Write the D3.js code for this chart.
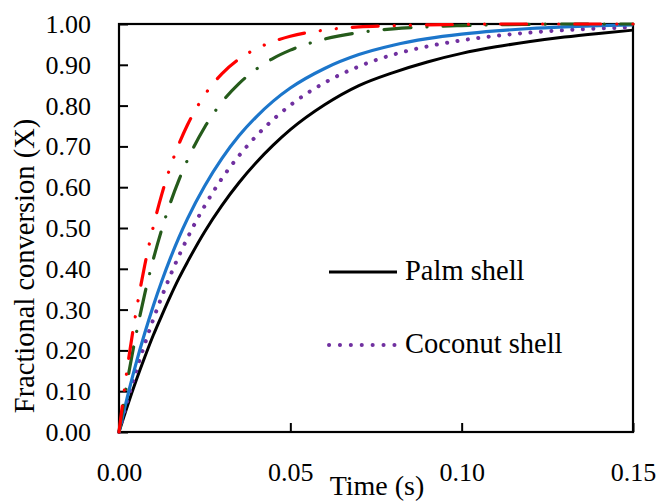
<!DOCTYPE html>
<html><head><meta charset="utf-8">
<script src="https://cdn.jsdelivr.net/npm/d3@7/dist/d3.min.js"></script>
<style>
html,body{margin:0;padding:0;background:#fff;}
</style></head>
<body>
<svg id="chart" width="659" height="503"></svg>
<script>
// ---- data ----
const xTicks = [0, 0.05, 0.10, 0.15];
const yTicks = [0,0.1,0.2,0.3,0.4,0.5,0.6,0.7,0.8,0.9,1.0];

const timeS = [0,0.0025,0.005,0.0075,0.01,0.0125,0.015,0.0175,0.02,0.025,0.03,0.035,0.04,0.045,0.05,0.06,0.07,0.08,0.09,0.10,0.11,0.12,0.13,0.14,0.15];
const palmShell    = [0,0.065,0.126,0.183,0.237,0.286,0.333,0.377,0.417,0.491,0.555,0.611,0.660,0.703,0.741,0.802,0.849,0.881,0.907,0.928,0.944,0.957,0.968,0.977,0.985];
const coconutShell = [0,0.078,0.149,0.215,0.276,0.332,0.384,0.432,0.476,0.554,0.621,0.677,0.725,0.766,0.801,0.856,0.896,0.925,0.945,0.960,0.971,0.979,0.985,0.989,0.992];
const blueSeries   = [0,0.088,0.169,0.242,0.309,0.370,0.426,0.477,0.523,0.603,0.670,0.726,0.772,0.811,0.843,0.891,0.925,0.948,0.964,0.975,0.983,0.989,0.993,0.996,0.998];
const greenSeries  = [0,0.128,0.240,0.338,0.423,0.497,0.562,0.618,0.667,0.747,0.808,0.854,0.889,0.916,0.936,0.963,0.979,0.988,0.993,0.996,0.998,0.999,1.0,1.0,1.0];
const redSeries    = [0,0.161,0.295,0.408,0.503,0.583,0.650,0.706,0.753,0.826,0.878,0.914,0.939,0.957,0.970,0.985,0.993,0.996,0.998,0.999,1.0,1.0,1.0,1.0,1.0];

const legendLabels = ["Palm shell", "Coconut shell"];

// ---- layout ----
const FONT = "'Liberation Serif', 'DejaVu Serif', 'Noto Serif', 'FreeSerif', Tinos, 'Times New Roman', Times, serif";
const svg = d3.select("#chart");
const L = 119, R = 633, T = 24, B = 432;
const x = d3.scaleLinear().domain([0,0.15]).range([L,R]);
const y = d3.scaleLinear().domain([0,1]).range([B,T]);

const yAxis = d3.axisLeft(y).tickValues(yTicks).tickSizeInner(-9).tickSizeOuter(0).tickPadding(28).tickFormat(d3.format(".2f"));
const xAxis = d3.axisBottom(x).tickValues(xTicks).tickSizeInner(-9).tickSizeOuter(0).tickPadding(31).tickFormat(d3.format(".2f"));

const gy = svg.append("g").attr("transform",`translate(${L},0)`).call(yAxis);
const gx = svg.append("g").attr("transform",`translate(0,${B})`).call(xAxis);
[gx,gy].forEach(g=>{
  g.attr("font-family", FONT).attr("font-size", 26);
  g.select(".domain").remove();
  g.selectAll(".tick line").attr("stroke","#000").attr("stroke-width",2);
  g.selectAll(".tick text").attr("fill","#000").attr("font-family",FONT).attr("font-size",26);
});
gy.selectAll(".tick text").attr("dy","0.33em");
gx.selectAll(".tick text").attr("dy","0.7em");

// frame
svg.append("rect").attr("x",L).attr("y",T).attr("width",R-L).attr("height",B-T)
  .attr("fill","none").attr("stroke","#000").attr("stroke-width",2.2);

// curves
const line = d3.line().x(d=>x(d[0])).y(d=>y(d[1])).curve(d3.curveMonotoneX);
const series = [
  {v:palmShell, color:"#000000", w:3, dash:null},
  {v:coconutShell, color:"#7030a0", w:4, dash:"0.1,10.4"},
  {v:blueSeries, color:"#1c76cb", w:3.2, dash:null},
  {v:greenSeries, color:"#255b1b", w:3.2, dash:"27,16,0.1,16"},
  {v:redSeries, color:"#ff0000", w:3.2, dash:"26,16,0.1,16,0.1,16"}
];
series.forEach(s=>{
  svg.append("path").datum(timeS.map((t,i)=>[t,s.v[i]]))
    .attr("d",line).attr("fill","none").attr("stroke",s.color)
    .attr("stroke-width",s.w).attr("stroke-linecap",s.dash?"round":"butt")
    .attr("stroke-dasharray",s.dash);
});

// legend
const leg = [
  {label:legendLabels[0], color:"#000", w:3, dash:null, y:272},
  {label:legendLabels[1], color:"#7030a0", w:4, dash:"0.1,10.8", y:345}
];
leg.forEach(l=>{
  svg.append("line").attr("x1",329).attr("x2",397).attr("y1",l.y).attr("y2",l.y)
    .attr("stroke",l.color).attr("stroke-width",l.w)
    .attr("stroke-linecap",l.dash?"round":"butt").attr("stroke-dasharray",l.dash);
  svg.append("text").attr("x",405).attr("y",l.y+8).attr("font-family",FONT)
    .attr("font-size",28.5).attr("fill","#000").text(l.label);
});

// axis titles
svg.append("text").attr("x",377).attr("y",495).attr("text-anchor","middle")
  .attr("font-family",FONT).attr("font-size",28).attr("fill","#000").text("Time (s)");
svg.append("text").attr("transform","translate(34,266) rotate(-90)").attr("text-anchor","middle")
  .attr("font-family",FONT).attr("font-size",28.5).attr("fill","#000").text("Fractional conversion (X)");
</script>
</body></html>
